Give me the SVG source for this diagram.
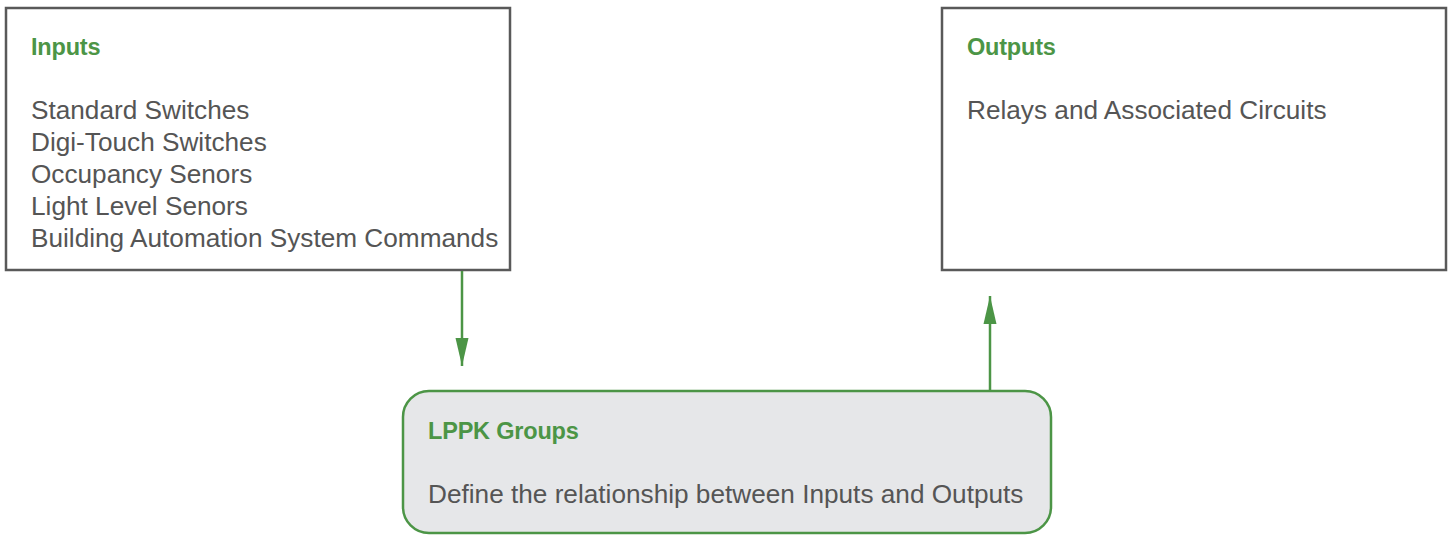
<svg xmlns="http://www.w3.org/2000/svg" width="1452" height="535" viewBox="0 0 1452 535">
<style>
.box{fill:#fff;stroke:#595959;stroke-width:2.5}
.grp{fill:#e6e7e9;stroke:#4c9546;stroke-width:2.5}
.t{font-family:"Liberation Sans",Arial,sans-serif;font-weight:bold;font-size:23.5px;fill:#4c9546;letter-spacing:-0.2px}
.b{font-family:"Liberation Sans",Arial,sans-serif;font-size:26.2px;fill:#555}
.c{stroke:#4c9546;stroke-width:2.5;fill:none}
</style>
<defs>
<marker id="a" markerUnits="userSpaceOnUse" markerWidth="28" markerHeight="14" refX="28" refY="7" orient="auto" viewBox="0 0 28 14">
<path d="M0,0.5 L28,7 L0,13.5 Z" fill="#4c9546"/>
</marker>
</defs>
<g id="inputs">
<rect class="box" x="6" y="8" width="504" height="262"/>
<text class="t" x="31" y="55">Inputs</text>
<text class="b" x="31" y="119">Standard Switches</text>
<text class="b" x="31" y="151">Digi-Touch Switches</text>
<text class="b" x="31" y="183">Occupancy Senors</text>
<text class="b" x="31" y="215">Light Level Senors</text>
<text class="b" x="31" y="247">Building Automation System Commands</text>
</g>
<g id="outputs">
<rect class="box" x="942" y="8" width="504" height="262"/>
<text class="t" x="967" y="55">Outputs</text>
<text class="b" x="967" y="119">Relays and Associated Circuits</text>
</g>
<g id="lppk">
<rect class="grp" x="403" y="391" width="648" height="142" rx="26" ry="26"/>
<text class="t" x="428" y="439">LPPK Groups</text>
<text class="b" x="428" y="503">Define the relationship between Inputs and Outputs</text>
</g>
<g id="connectors">
<line class="c" x1="462" y1="271" x2="462" y2="366" marker-end="url(#a)"/>
<line class="c" x1="990" y1="390" x2="990" y2="296" marker-end="url(#a)"/>
</g>
</svg>
